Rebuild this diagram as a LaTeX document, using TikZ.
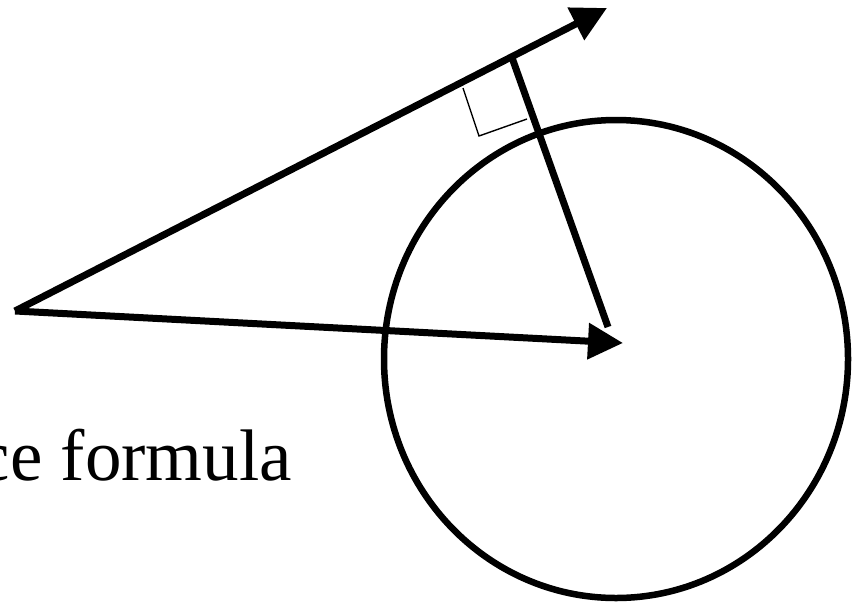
\documentclass[tikz,border=0pt]{standalone}
\usepackage{fontspec}
\setmainfont{Liberation Serif}
\usetikzlibrary{arrows.meta,calc}
\begin{document}
\begin{tikzpicture}[x=1pt,y=-1pt,
  thick line/.style={line width=7pt,line cap=butt},
  vec/.style={thick line,-{Triangle[length=35pt,width=35pt]}},
  mark line/.style={line width=1.4pt,line join=miter},
  label text/.style={font=\fontsize{73}{80}\selectfont,inner sep=0pt,anchor=base east}]
\useasboundingbox (0,0) rectangle (856,605);
\coordinate (A) at (15,311);
\coordinate (T) at (607,8);
\coordinate (C) at (623,343);
\coordinate (F) at ($(A)!0.839!(T)$);
\coordinate (E) at (608,327);
\coordinate (M1) at (463,88);
\coordinate (M2) at (479,136);
\coordinate (M3) at (527,119);
\draw[line width=6.5pt] (616,359) ellipse [x radius=232, y radius=239];
\draw[vec] (A) -- (T);
\draw[vec] (A) -- (C);
\draw[thick line] (F) -- (E);
\draw[mark line] (M1) -- (M2) -- (M3);
\node[label text] (lbl) at (292,480) {ce formula};
\end{tikzpicture}
\end{document}
